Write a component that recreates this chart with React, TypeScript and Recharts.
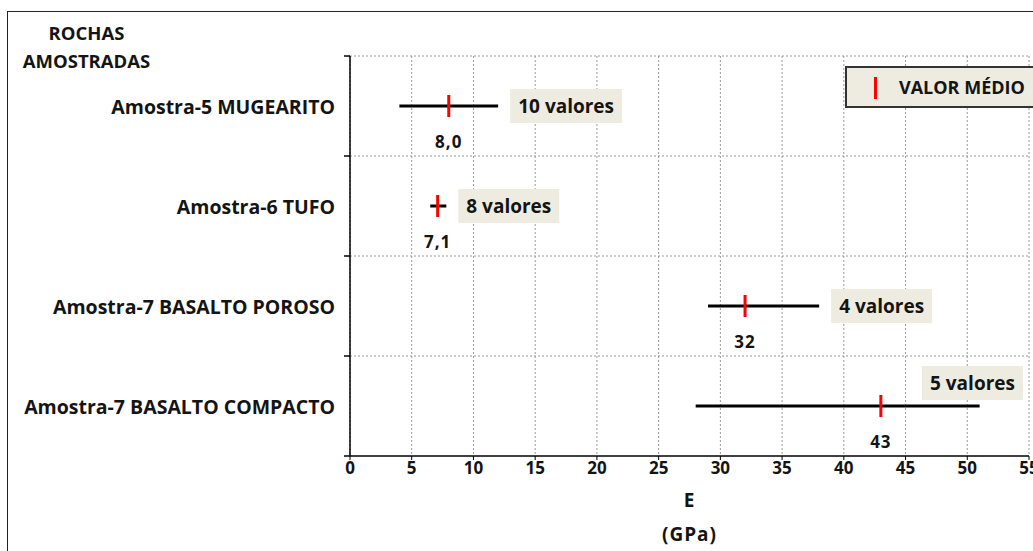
import React from "react";
import { ComposedChart, Bar, XAxis, YAxis, CartesianGrid } from "recharts";

// samples and their E (GPa) ranges
const rocks = [
  "Amostra-5 MUGEARITO",
  "Amostra-6 TUFO",
  "Amostra-7 BASALTO POROSO",
  "Amostra-7 BASALTO COMPACTO",
];
const minE = [4, 6.5, 29, 28];
const maxE = [12, 7.8, 38, 51];
const meanE = [8.0, 7.1, 32, 43];
const meanLabels = ["8,0", "7,1", "32", "43"];
const counts = [10, 8, 4, 5];
const xTicks = [0, 5, 10, 15, 20, 25, 30, 35, 40, 45, 50, 55];

const X_MAX = 55;
const FONT = "'Open Sans', Lato, sans-serif";
const BEIGE = "#EEECE1";
const INK = "#141414";

const data = rocks.map((name, i) => ({
  name,
  range: [minE[i], maxE[i]],
  mean: meanE[i],
  meanLabel: meanLabels[i],
  count: counts[i],
}));

function RangeShape(props: any) {
  const { x, y, width, height, payload } = props;
  const [lo, hi] = payload.range;
  const perUnit = width / (hi - lo);
  const cy = y + height / 2;
  const meanX = x + (payload.mean - lo) * perUnit;
  const end = x + width;
  const plotRight = x + (X_MAX - lo) * perUnit;

  const text = `${payload.count} valores`;
  const boxW = text.length * 11 + 2;
  const boxH = 34;
  let bx = end + 12;
  let by = cy - boxH / 2;
  if (bx + boxW > plotRight) {
    // no room on the right: put it above the line
    bx = Math.min(end - boxW / 2, plotRight - boxW - 6);
    by = cy - 23 - boxH / 2;
  }

  return (
    <g>
      <rect x={x} y={cy - 1.5} width={width} height={3} fill="#000" />
      <rect x={meanX - 1.5} y={cy - 11} width={3} height={22} fill="#FF0000" />
      <rect x={bx} y={by} width={boxW} height={boxH} fill={BEIGE} />
      <text
        x={bx + boxW / 2}
        y={by + boxH / 2}
        textAnchor="middle"
        dominantBaseline="central"
        fontFamily={FONT}
        fontWeight="bold"
        fontSize={19}
        fill={INK}
      >
        {text}
      </text>
      <text
        x={meanX}
        y={cy + 35}
        textAnchor="middle"
        dominantBaseline="central"
        fontFamily={FONT}
        fontWeight="bold"
        fontSize={17}
        letterSpacing={1}
        fill={INK}
      >
        {payload.meanLabel}
      </text>
    </g>
  );
}

// category label at band centre, tick marks on band edges
function RockTick(props: any) {
  const { x, y, payload, index, visibleTicksCount } = props;
  const half = payload.offset || 0;
  const ax = x + 15;
  return (
    <g>
      <line x1={ax - 6} x2={ax} y1={y - half} y2={y - half} stroke="#000" strokeWidth={1.5} />
      {index === visibleTicksCount - 1 && (
        <line x1={ax - 6} x2={ax} y1={y + half} y2={y + half} stroke="#000" strokeWidth={1.5} />
      )}
      <text
        x={x}
        y={y}
        textAnchor="end"
        dominantBaseline="central"
        fontFamily={FONT}
        fontWeight="bold"
        fontSize={19.5}
        fill={INK}
      >
        {payload.value}
      </text>
    </g>
  );
}

function AxisTitle(props: any) {
  const { viewBox } = props;
  const cx = viewBox.x + viewBox.width / 2;
  return (
    <g fontFamily={FONT} fontWeight="bold" fontSize={19} fill={INK} textAnchor="middle" letterSpacing={1}>
      <text x={cx} y={viewBox.y + 44} dominantBaseline="central">E</text>
      <text x={cx} y={viewBox.y + 78} dominantBaseline="central">(GPa)</text>
    </g>
  );
}

export default function App() {
  return (
    <div
      style={{
        position: "absolute",
        left: 0,
        top: 0,
        width: 1033,
        height: 551,
        overflow: "hidden",
        background: "#fff",
        fontFamily: FONT,
      }}
    >
      <div
        style={{
          position: "absolute",
          left: 7,
          top: 11,
          width: 1100,
          height: 600,
          borderLeft: "1px solid #222",
          borderTop: "1px solid #222",
        }}
      />
      <div
        style={{
          position: "absolute",
          left: 12,
          top: 19,
          width: 149,
          textAlign: "center",
          fontWeight: "bold",
          fontSize: 18.5,
          lineHeight: "28px",
          color: INK,
        }}
      >
        <div>ROCHAS</div>
        <div>AMOSTRADAS</div>
      </div>

      <ComposedChart
        width={1033}
        height={551}
        data={data}
        layout="vertical"
        margin={{ top: 56, right: 4, bottom: 0, left: 0 }}
        style={{ position: "absolute", left: 0, top: 0 }}
      >
        <CartesianGrid
          stroke="#999"
          strokeDasharray="2 2"
          verticalValues={xTicks}
          horizontalCoordinatesGenerator={({ offset }: any) =>
            rocks.map((_, i) => offset.top + (i * offset.height) / rocks.length)
          }
        />
        <XAxis
          type="number"
          domain={[0, X_MAX]}
          ticks={xTicks}
          interval={0}
          height={95}
          axisLine={{ stroke: "#000", strokeWidth: 1.5 }}
          tickLine={{ stroke: "#000" }}
          tickSize={4}
          tick={{ fontFamily: FONT, fontWeight: "bold", fontSize: 17, fill: INK }}
          label={<AxisTitle />}
        />
        <YAxis
          type="category"
          dataKey="name"
          width={350}
          axisLine={{ stroke: "#000", strokeWidth: 1.5 }}
          tickLine={false}
          tickSize={6}
          tickMargin={9}
          interval={0}
          tick={<RockTick />}
        />
        <Bar dataKey="range" barSize={24} shape={<RangeShape />} isAnimationActive={false} />
      </ComposedChart>

      <div
        style={{
          position: "absolute",
          left: 845,
          top: 66,
          width: 200,
          height: 38,
          background: BEIGE,
          border: "2px solid #333",
        }}
      >
        <div
          style={{
            position: "absolute",
            left: 27,
            top: 9,
            width: 3,
            height: 22,
            background: "#FF0000",
          }}
        />
        <div
          style={{
            position: "absolute",
            left: 52,
            top: 0,
            lineHeight: "38px",
            fontWeight: "bold",
            fontSize: 18,
            color: INK,
          }}
        >
          VALOR MÉDIO
        </div>
      </div>
    </div>
  );
}
